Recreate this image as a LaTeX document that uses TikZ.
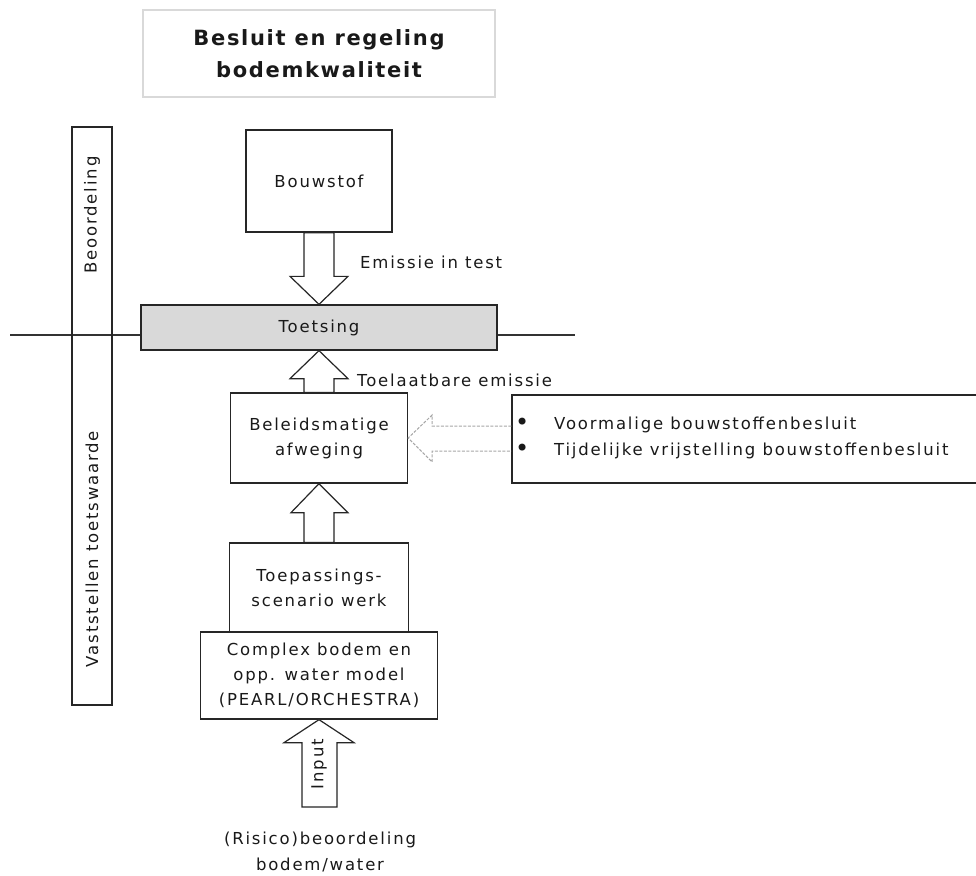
\documentclass[tikz,border=0pt]{standalone}
\usepackage{fontspec}
\setmainfont{DejaVu Sans}[LetterSpace=11]
\newfontfamily\titlefont{DejaVu Sans}[LetterSpace=8]
\usetikzlibrary{calc}
\tikzset{
  box/.style={draw=black!85, line width=1.3pt, rectangle, inner sep=0pt, align=center,
    font=\fontsize{16.5}{25}\selectfont, text=black!90},
  lbl/.style={inner sep=0pt, align=center, font=\fontsize{16.5}{26}\selectfont, text=black!90},
  blk/.style={draw=black!85, line width=1.2pt, fill=white, line join=miter},
  gblk/.style={draw=black!35, line width=1pt, dashed, dash pattern=on 3pt off 1.5pt},
}
\newcommand{\bul}{\makebox[39pt][l]{\raisebox{-1pt}{\fontsize{24}{24}\selectfont•}}}
\begin{document}
\begin{tikzpicture}[x=1pt, y=-1pt]
\useasboundingbox (0,0) rectangle (976,875);
% title
\node[box, draw=black!15, line width=2pt, minimum width=352pt, minimum height=87pt,
  font=\titlefont\fontsize{21}{32}\selectfont\bfseries] (title) at (319,53.5) {Besluit en regeling\\bodemkwaliteit};
% horizontal line
\coordinate (hl1) at (10,335);
\coordinate (hl2) at (575,335);
\draw[black!80, line width=1.2pt] (hl1) -- (hl2);
% vertical bar
\node[box, minimum width=40pt, minimum height=578pt] (bar) at (92,416) {};
\node[lbl, rotate=90] (beoord) at (92,215) {Beoordeling};
\node[lbl, rotate=90] (vast) at (92,549) {Vaststellen toetswaarde};
% boxes
\node[box, minimum width=146pt, minimum height=102pt] (bouw) at (319,181) {Bouwstof};
\node[box, fill=black!15, minimum width=356pt, minimum height=45pt] (toets) at (319,327.5) {Toetsing};
\node[box, minimum width=177pt, minimum height=90pt] (beleid) at (319,438) {Beleidsmatige\\afweging};
\node[box, minimum width=473pt, minimum height=88pt] (right) at (748.5,439) {};
\node[lbl, anchor=west] (b1) at (515,425) {\bul Voormalige bouwstoffenbesluit};
\node[lbl, anchor=west] (b2) at (515,451) {\bul Tijdelijke vrijstelling bouwstoffenbesluit};
\node[box, minimum width=179pt, minimum height=89pt] (toep) at (319,587.5) {Toepassings-\\scenario werk};
\node[box, minimum width=237pt, minimum height=87pt] (cplx) at (319,675.5) {Complex bodem en\\opp. water model\\(PEARL/ORCHESTRA)};
% labels
\node[lbl, anchor=west] (emis) at (360,262) {Emissie in test};
\node[lbl, anchor=west] (toel) at (357,380) {Toelaatbare emissie};
\node[lbl] (risico) at (320,852) {(Risico)beoordeling\\bodem/water};
% block arrows
\draw[blk] ($(bouw.south)+(-15,0)$) -- ($(toets.north)+(-15,-28)$) -- ($(toets.north)+(-29,-28)$)
  -- (toets.north) -- ($(toets.north)+(29,-28)$) -- ($(toets.north)+(15,-28)$) -- ($(bouw.south)+(15,0)$) -- cycle;
\draw[blk] ($(beleid.north)+(-15,0)$) -- ($(toets.south)+(-15,28)$) -- ($(toets.south)+(-29,28)$)
  -- (toets.south) -- ($(toets.south)+(29,28)$) -- ($(toets.south)+(15,28)$) -- ($(beleid.north)+(15,0)$) -- cycle;
\draw[blk] ($(toep.north)+(-15,0)$) -- ($(beleid.south)+(-15,29)$) -- ($(beleid.south)+(-28,29)$)
  -- (beleid.south) -- ($(beleid.south)+(29,29)$) -- ($(beleid.south)+(15,29)$) -- ($(toep.north)+(15,0)$) -- cycle;
\coordinate (inbot) at (319,807);
\draw[blk] ($(inbot)+(-17,0)$) -- ($(cplx.south)+(-17,23)$) -- ($(cplx.south)+(-35,23)$)
  -- (cplx.south) -- ($(cplx.south)+(35,23)$) -- ($(cplx.south)+(18,23)$) -- ($(inbot)+(18,0)$) -- cycle;
\node[lbl, rotate=90] (input) at (319,764) {Input};
% gray dashed arrow
\coordinate (gtip) at (beleid.east);
\draw[gblk] ($(right.west)+(0,-13)$) -- ($(gtip)+(24,-12)$) -- ($(gtip)+(24,-23)$) -- (gtip)
  -- ($(gtip)+(24,24)$) -- ($(gtip)+(24,13)$) -- ($(right.west)+(0,12)$);
\end{tikzpicture}
\end{document}
